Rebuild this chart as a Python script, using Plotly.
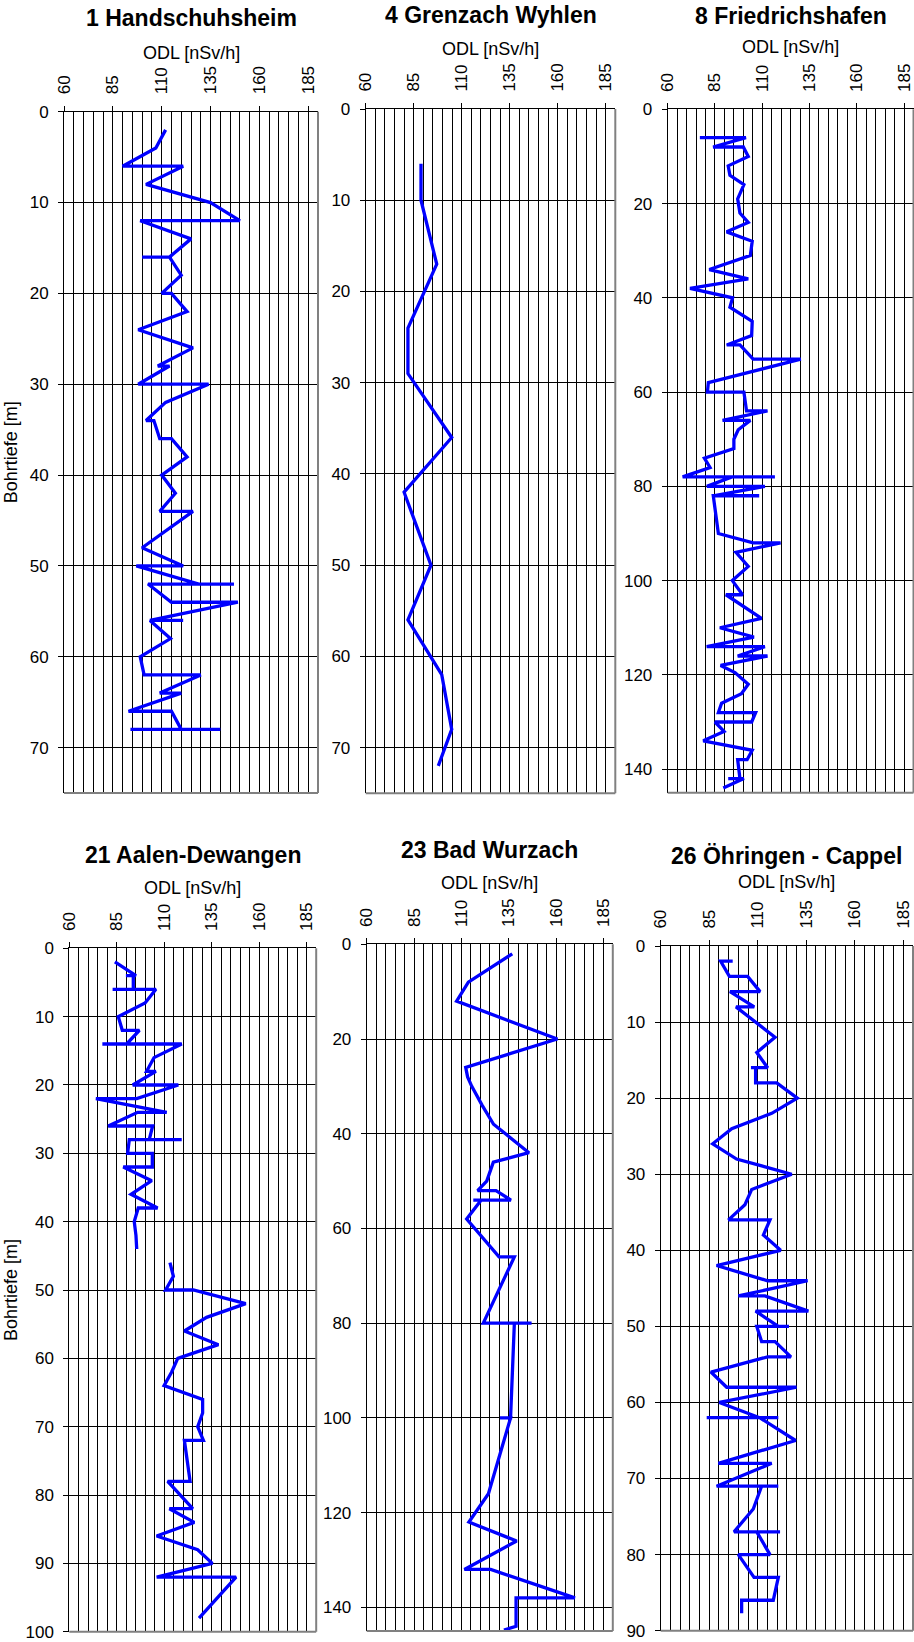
import plotly.graph_objects as go

W, H = 914, 1642

titles = ["1 Handschuhsheim", "4 Grenzach Wyhlen", "8 Friedrichshafen",
          "21 Aalen-Dewangen", "23 Bad Wurzach", "26 Öhringen - Cappel"]
x_title = "ODL [nSv/h]"
y_title = "Bohrtiefe [m]"
x_ticks = [60, 85, 110, 135, 160, 185]

d1 = [2, 4, 6, 6, 8, 10, 12, 12, 14, 16, 16, 16, 18, 20, 20, 22, 24, 26, 28, 28, 30, 30, 32, 34, 34, 36, 36,
      38, 40, 42, 44, 44, 48, 50, 50, 52, 52, 52, 54, 54, 56, 56, 56, 58, 60, 62, 62, 64, 64, 66, 66, 68, 68, 68]
v1 = [112, 107, 90, 121, 102, 135, 150, 99, 125, 114, 100, 114, 120, 110, 115, 123, 98, 126, 108, 114, 98, 134,
      112, 102, 106, 109, 115, 123, 110, 117, 109, 126, 100, 121, 97, 129, 147, 103, 115, 149, 104, 121, 104,
      114.5, 99, 101, 130, 109, 120, 93, 115, 120, 94, 140]

d2 = [6, 10, 17, 24, 29, 36, 42, 50, 56, 62, 68, 72]
v2 = [88.8, 88.8, 97, 82, 82, 104.8, 80, 94, 82, 99.6, 104.8, 97.8]

d3 = [6, 6, 8, 8, 10, 12, 14, 16, 19, 22, 24, 26, 28, 31, 34, 36, 38, 40, 42, 45, 48, 50, 50, 53, 53, 58, 60,
      60, 64, 64, 66, 66, 68, 70, 72, 74, 76, 78, 78, 78, 80, 80, 82, 82, 82, 90, 92, 92, 94, 97, 100, 103, 103,
      108, 110, 112, 114, 114, 116, 116, 118, 119.5, 122, 124, 126, 128, 128, 130, 130, 132, 134, 136, 138,
      138, 142, 142, 142, 144]
v3 = [77, 101.4, 84, 100, 102.6, 92, 92.9, 100.3, 97, 98.2, 102.6, 91.2, 104.7, 103.7, 82, 102.6, 71.8, 94.3,
      92.9, 104.7, 104.4, 91.2, 98.2, 105.2, 130.4, 81.5, 81, 100.3, 101.7, 112.8, 89, 103.7, 97.3, 95, 95,
      79.4, 82.4, 67.9, 116.7, 94, 80.7, 111.4, 84.1, 108.4, 84.1, 86.8, 105.2, 119.7, 96.1, 102.6, 94.2, 99.6,
      90.8, 109.6, 87.6, 105.6, 80.6, 111.4, 97, 112.8, 88, 95.6, 102.6, 99, 88.5, 86.8, 106.5, 104.4, 85, 89.8,
      78.8, 104.7, 102, 97, 98.2, 92, 100.3, 89.4]

d4 = [2, 4, 4, 4, 6, 6, 6, 8, 10, 12, 12, 14, 14, 14, 16, 18, 18, 20, 20, 22, 22, 24, 24, 26, 26, 28, 28, 28,
      30, 30, 32, 32, 34, 36, 38, 38, 40, 42, 44, None, 46, 48, 50, 50, 52, 54, 56, 58, 60, 62, 64, 66, 68, 70,
      72, 72, 78, 78, 82, 82, 84, 86, 88, 90, 92, 92, 98]
v4 = [84, 95.1, 89.8, 93.7, 93.7, 82.8, 105.6, 99.9, 85.8, 87.9, 96.9, 90.2, 77.4, 119.2, 104.6, 100.7, 105.6,
      93.4, 117.4, 95.5, 74, 111.3, 96, 80.5, 103.9, 102.1, 119.2, 91.6, 90.7, 103.7, 103.7, 88.4, 103.4, 92.5,
      106.5, 96.3, 94.2, 95.1, 95.5, None, 113, 114.8, 110.7, 125.3, 152.9, 132.3, 120.6, 138.5, 117.1, 113.9,
      109.9, 130.2, 130.2, 127.6, 130.6, 120.6, 123.6, 111.8, 125, 112.7, 125.8, 106, 127.6, 135.3, 106, 147.8,
      128.3]

d5 = [2, 8, 12, 20, 26, 28, 30, 34, 38, 44, 46, 50, 52, 52, 54, 54, 54, 58, 66, 66, 80, 80, 80, 100, 100, 100,
      116, 122, 126, 132, 132, 138, 138, 144, 144.8]
v5 = [136.9, 113.7, 107.5, 160.7, 112.3, 113.3, 115.5, 121, 127, 145.7, 126.9, 123.4, 118.6, 128.3, 136.2,
      116.3, 120.5, 112.8, 129.9, 138, 121.6, 147.1, 138, 136, 130.4, 136, 124.3, 114, 139.2, 111.6, 125.5, 170,
      138.9, 138.9, 132.5]

d6 = [2, 2, 4, 4, 6, 6, 8, 8, 12, 14, 16, 16, 16, 18, 18, 20, 22, 24, 26, 28, 30, 32, 34, 36, 36, 38, 40, 42,
      44, 44, 46, 46, 48, 48, 50, 50, 50, 52, 52, 54, 54, 56, 58, 58, 60, 62, 62, 62, 62, 65, 68, 68, 71, 71, 71,
      74, 77, 77, 77, 80, 80, 83, 83, 86, 86, 87.7]
v6 = [97.1, 90.9, 95.4, 104.8, 111.2, 95.7, 108.2, 98.8, 118.9, 109.5, 115.1, 106.5, 108.9, 108.9, 119.8, 130.4,
      117.2, 96.6, 86.8, 99.1, 127.5, 106.9, 103.4, 94.9, 116.3, 112.9, 121.8, 88.8, 115.1, 135.7, 100, 113.7,
      136.1, 108.9, 120.6, 126.1, 109.5, 112, 118.9, 127.1, 115.1, 85.9, 94, 130, 90.2, 111, 83.7, 120.6, 111,
      129.5, 89.7, 117.2, 88.8, 120.6, 112, 107.7, 97.8, 121.5, 109.5, 116.3, 100, 108.1, 120.6, 118, 101.7,
      101.7]

depths = [d1, d2, d3, d4, d5, d6]
values = [v1, v2, v3, v4, v5, v6]
y_max = [75, 75, 145, 100, 145, 90]
y_step = [10, 10, 20, 10, 20, 10]

# plot area boxes in page pixels: (left, right, top, bottom)
boxes = [(64, 318, 111.7, 793), (365.7, 615.3, 109, 793.3), (667.7, 913.5, 109.3, 792.7),
         (69.3, 316.2, 948.3, 1631.7), (366.7, 612.8, 944.3, 1631), (660.7, 913, 946, 1630.7)]
title_y = [18, 15, 15.5, 855, 850, 856]
odl_y = [52.5, 49, 47, 888, 883, 882]

FONT = "Liberation Sans, Arial, sans-serif"


def fx(px):
    return px / W


def fy(py):
    return 1 - py / H


fig = go.Figure()
annotations = []
shapes = []
for i in range(6):
    n = i + 1
    sfx = "" if n == 1 else str(n)
    L, R, T, B = boxes[i]
    fig.add_trace(go.Scatter(x=values[i], y=depths[i], mode="lines",
                             line=dict(color="#0000FF", width=3.3),
                             xaxis="x" + sfx, yaxis="y" + sfx,
                             showlegend=False, connectgaps=False, hoverinfo="x+y"))
    fig.layout["xaxis" + sfx] = dict(
        domain=[fx(L), min(fx(R), 1)], anchor="y" + sfx, side="top", range=[60, 190],
        automargin=False,
        tickmode="array", tickvals=x_ticks, tickangle=-90,
        ticks="outside", ticklen=5, tickcolor="black", tickwidth=1,
        ticklabelstandoff=8,
        tickfont=dict(family=FONT, size=17, color="black"),
        showgrid=True, gridcolor="black", gridwidth=1,
        minor=dict(tickmode="linear", tick0=60, dtick=5, showgrid=True,
                   gridcolor="black", gridwidth=1, ticks=""),
        showline=True, linecolor="black", linewidth=1, mirror=False,
        zeroline=False, fixedrange=True)
    fig.layout["yaxis" + sfx] = dict(
        domain=[fy(B), fy(T)], anchor="x" + sfx, range=[y_max[i], 0],
        automargin=False,
        tickmode="linear", tick0=0, dtick=y_step[i],
        ticks="outside", ticklen=5, tickcolor="black", tickwidth=1,
        ticklabelstandoff=6,
        tickfont=dict(family=FONT, size=17, color="black"),
        showgrid=True, gridcolor="black", gridwidth=1,
        showline=True, linecolor="black", linewidth=1, mirror=False,
        zeroline=False, fixedrange=True)
    # grey right and bottom border
    shapes.append(dict(type="line", xref="x" + sfx + " domain", yref="y" + sfx + " domain",
                       x0=1, x1=1, y0=0, y1=1, line=dict(color="#808080", width=2)))
    shapes.append(dict(type="line", xref="x" + sfx + " domain", yref="y" + sfx + " domain",
                       x0=0, x1=1, y0=0, y1=0, line=dict(color="#808080", width=2)))
    cx = (L + R) / 2
    annotations.append(dict(text="<b>" + titles[i] + "</b>", x=fx(cx), y=fy(title_y[i]),
                            xref="paper", yref="paper", xanchor="center", yanchor="middle",
                            showarrow=False, font=dict(family=FONT, size=23, color="black")))
    annotations.append(dict(text=x_title, x=fx(cx), y=fy(odl_y[i]),
                            xref="paper", yref="paper", xanchor="center", yanchor="middle",
                            showarrow=False, font=dict(family=FONT, size=18, color="black")))
    if i in (0, 3):
        annotations.append(dict(text=y_title, x=fx(11), y=fy((T + B) / 2),
                                xref="paper", yref="paper", xanchor="center", yanchor="middle",
                                textangle=-90, showarrow=False,
                                font=dict(family=FONT, size=18, color="black")))

fig.update_layout(width=W, height=H, margin=dict(l=0, r=0, t=0, b=0, autoexpand=False),
                  paper_bgcolor="white", plot_bgcolor="white",
                  annotations=annotations, shapes=shapes,
                  font=dict(family=FONT, color="black"))

fig.write_html("out.html", config={"displayModeBar": False},
               post_script="document.body.style.margin='0';")
